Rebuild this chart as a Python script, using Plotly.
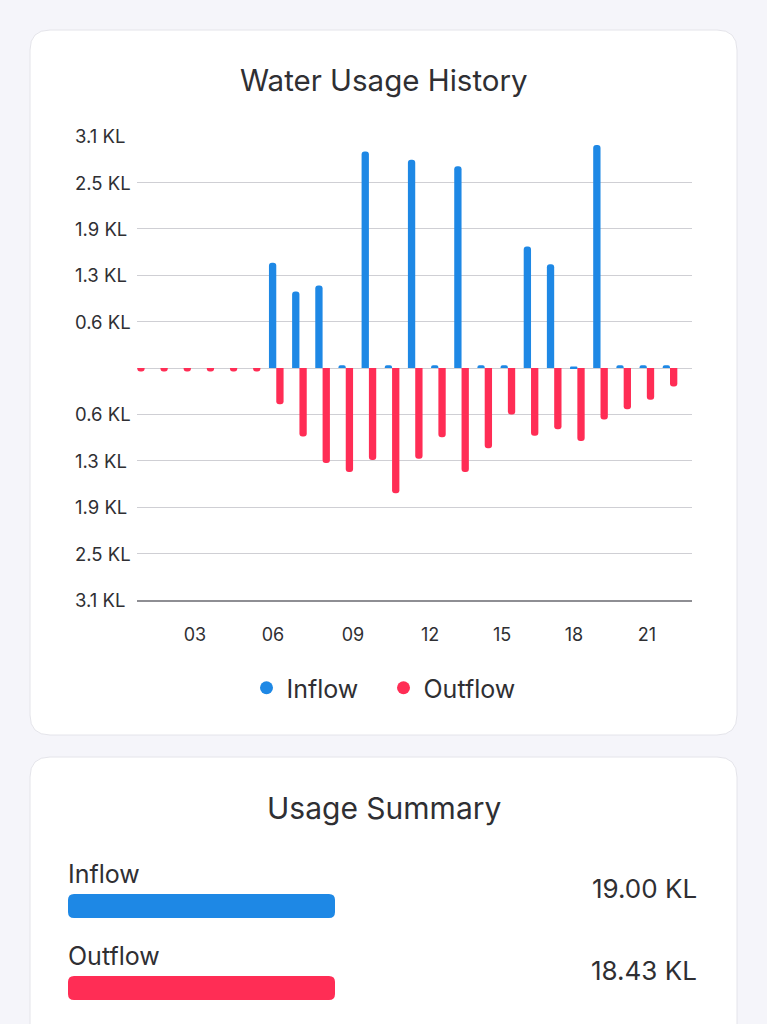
import plotly.graph_objects as go

# ---------------- data ----------------
hours = list(range(24))
inflow_kl = [0, 0, 0, 0, 0, 0, 1.43, 1.04, 1.12, 0.04, 2.94, 0.04,
             2.83, 0.04, 2.74, 0.04, 0.04, 1.65, 1.41, 0.02, 3.03, 0.04, 0.04, 0.04]
outflow_kl = [0.045, 0.045, 0.045, 0.045, 0.045, 0.045, 0.49, 0.93, 1.29, 1.41, 1.25, 1.70,
              1.23, 0.94, 1.41, 1.09, 0.63, 0.92, 0.83, 0.99, 0.70, 0.56, 0.43, 0.25]
x_tick_labels = ["03", "06", "09", "12", "15", "18", "21"]
y_tick_values = [0.63, 1.26, 1.89, 2.52, 3.15]
y_tick_labels = ["0.6 KL", "1.3 KL", "1.9 KL", "2.5 KL", "3.1 KL"]
summary_names = ["Inflow", "Outflow"]
summary_totals = ["19.00 KL", "18.43 KL"]

# ---------------- styling ----------------
W, H = 767, 1024
BLUE = "#1E88E5"
RED = "#FF2D55"
TXT = "#2f2f33"
BG = "#F5F5FA"
FONT = "Inter"

x_tick_pos = [2.49, 5.86, 9.31, 12.64, 15.75, 18.85, 22.0]


def X(px):
    return px / W


def Y(py):
    return 1 - py / H


def rounded(x0, y0, x1, y1, r):
    return (f"M {X(x0 + r)} {Y(y0)} L {X(x1 - r)} {Y(y0)} Q {X(x1)} {Y(y0)} {X(x1)} {Y(y0 + r)} "
            f"L {X(x1)} {Y(y1 - r)} Q {X(x1)} {Y(y1)} {X(x1 - r)} {Y(y1)} "
            f"L {X(x0 + r)} {Y(y1)} Q {X(x0)} {Y(y1)} {X(x0)} {Y(y1 - r)} "
            f"L {X(x0)} {Y(y0 + r)} Q {X(x0)} {Y(y0)} {X(x0 + r)} {Y(y0)} Z")


fig = go.Figure()
fig.add_trace(go.Bar(x=hours, y=inflow_kl, name="Inflow", marker_color=BLUE,
                     marker_line_width=0, showlegend=False))
fig.add_trace(go.Bar(x=hours, y=[-v for v in outflow_kl], name="Outflow", marker_color=RED,
                     marker_line_width=0, showlegend=False))
# legend entries with round markers
fig.add_trace(go.Scatter(x=[None], y=[None], mode="markers", name="Inflow",
                         marker=dict(size=13, color=BLUE)))
fig.add_trace(go.Scatter(x=[None], y=[None], mode="markers", name="Outflow",
                         marker=dict(size=13, color=RED)))

all_ticks = [-v for v in y_tick_values[::-1]] + [0] + y_tick_values

shapes = [
    dict(type="path", xref="paper", yref="paper", path=rounded(30, 30, 737, 735, 20),
         fillcolor="white", line=dict(color="#E4E4EA", width=1), layer="below"),
    dict(type="path", xref="paper", yref="paper", path=rounded(30, 757, 737, 1060, 20),
         fillcolor="white", line=dict(color="#E4E4EA", width=1), layer="below"),
    dict(type="path", xref="paper", yref="paper", path=rounded(68, 894, 335, 918, 6),
         fillcolor=BLUE, line=dict(width=0)),
    dict(type="path", xref="paper", yref="paper", path=rounded(68, 976, 335, 1000, 6),
         fillcolor=RED, line=dict(width=0)),
]

annotations = [
    dict(text="Water Usage History", xref="paper", yref="paper", x=X(383.5), y=Y(80),
         xanchor="center", yanchor="middle", showarrow=False, font=dict(size=29.5, color=TXT)),
    dict(text="Usage Summary", xref="paper", yref="paper", x=X(383.5), y=Y(808),
         xanchor="center", yanchor="middle", showarrow=False, font=dict(size=30, color=TXT)),
]
for v, lab in zip(y_tick_values, y_tick_labels):
    for sgn in (1, -1):
        annotations.append(dict(text=lab, xref="paper", yref="y", x=X(73), y=sgn * v,
                                xanchor="left", yanchor="middle", showarrow=False,
                                font=dict(size=18.5, color=TXT)))
for i, (nm, tot) in enumerate(zip(summary_names, summary_totals)):
    yc = 874 + i * 82
    annotations.append(dict(text=nm, xref="paper", yref="paper", x=X(66), y=Y(yc),
                            xanchor="left", yanchor="middle", showarrow=False,
                            font=dict(size=25, color=TXT)))
    annotations.append(dict(text=tot, xref="paper", yref="paper", x=X(699), y=Y(yc + 14),
                            xanchor="right", yanchor="middle", showarrow=False,
                            font=dict(size=26, color=TXT)))

fig.update_layout(
    width=W, height=H,
    margin=dict(l=0, r=0, t=0, b=0),
    paper_bgcolor=BG, plot_bgcolor="rgba(0,0,0,0)",
    font=dict(family=FONT, color=TXT),
    barmode="group", bargap=0.368, bargroupgap=0,
    barcornerradius="50%",
    shapes=shapes, annotations=annotations,
    legend=dict(orientation="h", x=0.5, xanchor="center", y=Y(688), yanchor="middle",
                font=dict(size=25, color=TXT), bgcolor="rgba(0,0,0,0)",
                entrywidth=92, entrywidthmode="pixels"),
    xaxis=dict(domain=[X(137), X(692)], range=[-0.013, 23.95],
               tickmode="array", tickvals=x_tick_pos, ticktext=x_tick_labels,
               ticks="outside", ticklen=18, tickcolor="rgba(0,0,0,0)",
               tickfont=dict(size=18, color=TXT), showgrid=False, zeroline=False,
               showline=True, linecolor="#8E8E93", linewidth=1.5, fixedrange=True),
    yaxis=dict(domain=[Y(600), Y(136)], range=[-3.15, 3.152],
               tickmode="array", tickvals=all_ticks, showticklabels=False,
               showgrid=True, gridcolor="#CFCFD4", gridwidth=1.2,
               zeroline=True, zerolinecolor="#CFCFD4", zerolinewidth=1.2, fixedrange=True),
)

fig.write_html("out.html", config={"displayModeBar": False},
               post_script="document.body.style.margin='0';document.body.style.overflow='hidden';"
                           "document.body.style.background='" + BG + "';")
